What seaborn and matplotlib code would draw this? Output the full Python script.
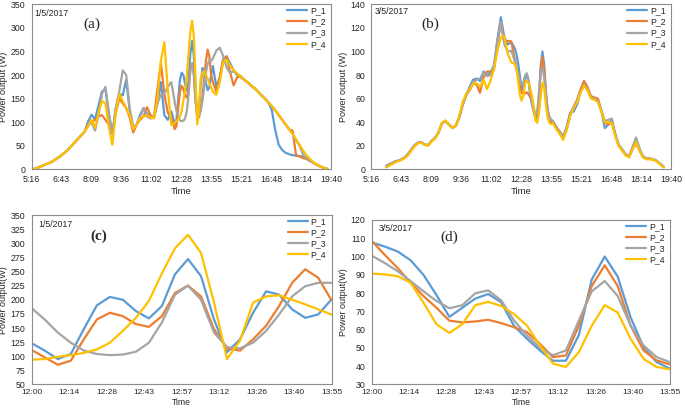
import numpy as np
import pandas as pd
import seaborn as sns
import matplotlib.pyplot as plt

sns.set_style('white')
plt.rcParams['font.family'] = ['Liberation Sans', 'DejaVu Sans']

series = ['P_1', 'P_2', 'P_3', 'P_4']
colors = ['#5B9BD5', '#ED7D31', '#A5A5A5', '#FFC000']

day_ticks = ['5:16', '6:43', '8:09', '9:36', '11:02', '12:28', '13:55', '15:21', '16:48', '18:14', '19:40']
noon_ticks = ['12:00', '12:14', '12:28', '12:43', '12:57', '13:12', '13:26', '13:40', '13:55']

# sample times in minutes after midnight
noon_time = np.arange(720, 840, 5)                      # 12:00 - 13:55
a_time = np.concatenate([np.arange(320, 720, 10), noon_time, np.arange(840, 1180, 10)])
b_time = np.concatenate([np.arange(360, 720, 10), noon_time, np.arange(840, 1170, 10)])

# ---- 1/5/2017, 12:00-13:55 (panel c, also part of panel a)
c_p1 = [123, 110, 95, 104, 148, 190, 205, 200, 180, 167, 189, 245, 272, 242, 165, 107, 130, 177, 215, 209, 183, 168, 174, 200]
c_p2 = [111, 98, 85, 92, 130, 165, 177, 171, 157, 152, 171, 212, 225, 206, 148, 114, 110, 130, 154, 189, 230, 254, 239, 200]
c_p3 = [185, 165, 142, 124, 110, 104, 102, 103, 108, 124, 160, 209, 225, 200, 142, 116, 114, 124, 145, 174, 206, 224, 230, 230]
c_p4 = [94, 95, 99, 102, 106, 112, 124, 145, 168, 198, 247, 291, 315, 283, 195, 95, 128, 195, 206, 208, 200, 192, 183, 174]

# ---- 1/5/2017 whole day (panel a)
a_rise = [0, 2, 5, 8, 11, 14, 18, 23, 28, 34, 40, 48, 56, 64, 72, 80]   # 5:20 - 7:50
a_p1_am = [101, 116, 106, 135, 165, 170, 115, 75, 130, 160, 157, 190, 125, 85, 95, 115, 130, 118, 110, 110, 140, 185, 115, 105]
a_p2_am = [95, 100, 105, 112, 115, 105, 95, 76, 120, 150, 140, 130, 110, 78, 95, 105, 112, 132, 115, 110, 170, 225, 160, 120]
a_p3_am = [92, 100, 82, 115, 160, 175, 120, 75, 130, 165, 210, 200, 130, 90, 95, 110, 130, 112, 108, 110, 140, 158, 160, 175]
a_p4_am = [92, 105, 88, 120, 145, 140, 90, 52, 120, 160, 145, 130, 115, 85, 95, 108, 112, 115, 110, 108, 150, 230, 270, 170]
a_p1_pm = [219, 175, 195, 235, 238, 225, 210, 200, 195, 190, 185, 178, 172, 165, 157, 150, 142,
           126, 83, 52, 41, 35, 32, 30, 29, 28, 27, 23, 18, 14, 10, 6, 3, 1]
a_p2_pm = [185, 165, 195, 232, 240, 205, 178, 195, 198, 190, 185, 178, 172, 165, 157, 150, 142,
           134, 125, 115, 105, 95, 85, 82, 30, 27, 24, 22, 18, 14, 10, 6, 3, 1]
a_p3_pm = [235, 252, 258, 240, 215, 205, 208, 203, 197, 190, 185, 178, 172, 165, 157, 150, 142,
           134, 125, 115, 105, 95, 85, 75, 62, 50, 32, 24, 19, 14, 10, 6, 3, 1]
a_p4_pm = [165, 158, 185, 228, 232, 220, 210, 203, 196, 190, 185, 178, 172, 165, 157, 150, 142,
           134, 125, 115, 105, 95, 85, 75, 64, 52, 40, 30, 22, 15, 10, 6, 3, 1]

# ---- 3/5/2017, 12:00-13:55 (panel d, also part of panel b)
d_p1 = [107.7, 105.5, 102.8, 98, 90, 79, 67, 72, 77, 79.5, 75, 62, 55, 48.6, 43, 43, 57, 87.5, 100, 89, 66.7, 50.4, 42.3, 38.7]
d_p2 = [108.6, 101, 93.8, 85.7, 78.4, 72, 64.9, 64, 64.5, 65.4, 63.6, 61.3, 58.6, 52.2, 45, 45.9, 62.2, 83.9, 95.2, 83.9, 62.2, 48.6, 43.2, 41]
d_p3 = [100.5, 96.5, 92, 86.6, 81, 75.7, 71.7, 73.4, 79.9, 81.5, 76, 65, 56.7, 50, 46, 48.6, 65, 81, 86.6, 78.4, 62.2, 51.3, 45, 42.3]
d_p4 = [90.7, 90.2, 89.3, 85.7, 74.8, 63, 58.2, 63, 73.4, 75.2, 73, 68.5, 62.2, 51.3, 41.4, 39.6, 47.7, 62.2, 73.4, 69.4, 55, 44, 39.6, 38.3]

# ---- 3/5/2017 whole day (panel b)
b_rise = [3, 4.5, 6, 7, 8, 9.5, 12, 16, 20, 22.5, 23, 21, 20.5, 24, 26.5, 31, 39, 41, 38, 35, 37, 44, 55, 63]
b_rise_p4 = [1.5, 3.5, 5, 6.5, 7.5, 9, 11, 15, 19, 22, 22.5, 21, 20, 23.5, 26, 31, 39.5, 41.5, 38, 35, 37, 45, 57, 64]
b_p1_am = [70, 76, 77, 75, 83, 80, 82, 88, 110, 129, 112, 106]
b_p2_am = [67, 73, 72, 65, 78, 83, 83, 84, 105, 125, 108, 109]
b_p3_am = [68, 74, 76, 77, 82, 79, 80, 86, 108, 125, 106, 100]
b_p4_am = [68, 73, 73, 70, 76, 68, 75, 85, 100, 112, 113, 98]
b_p1_pm = [40, 35, 31, 27, 36, 48, 49, 55, 66, 72, 68, 61, 60, 58, 50, 35, 38, 42, 30, 21, 17, 13, 11, 18, 26, 17, 11, 9, 9, 8.5, 7, 4.5, 2]
b_p2_pm = [41, 36, 32, 28, 35, 47, 53, 59, 68, 75, 70, 62, 61, 60, 50, 40, 38, 40, 29, 20, 16, 12, 10.5, 17, 22, 16, 10.5, 9, 9, 8.5, 7, 4.5, 2]
b_p3_pm = [41, 36, 31, 28, 35, 46, 53, 58, 66, 72, 68, 61, 60, 58, 50, 41, 42, 43, 30, 21, 17, 13, 11, 19, 27, 18, 11, 9.5, 9, 8.5, 7, 4.5, 2]
b_p4_pm = [39, 34, 30, 25, 33, 45, 52, 57, 65, 71, 67, 60, 59, 57, 49, 40, 40, 39, 28, 20, 16, 12, 10, 17, 23, 16, 10, 8.5, 8.5, 8, 6.5, 4, 1.5]

a_vals = [a_rise + a_p1_am + c_p1 + a_p1_pm,
          a_rise + a_p2_am + c_p2 + a_p2_pm,
          a_rise + a_p3_am + c_p3 + a_p3_pm,
          a_rise + a_p4_am + c_p4 + a_p4_pm]
b_vals = [b_rise + b_p1_am + d_p1 + b_p1_pm,
          b_rise + b_p2_am + d_p2 + b_p2_pm,
          b_rise + b_p3_am + d_p3 + b_p3_pm,
          b_rise_p4 + b_p4_am + d_p4 + b_p4_pm]


def panel(rect, t, vals, ylim, ystep, start, step, ticklabels, date, letter, letter_xy, bold, ylabel,
          xlab_y, xlab_size, tick_size, tick_pad):
    ax = fig.add_axes(rect)
    df = pd.DataFrame({'time': np.tile(t, 4),
                       'power': np.concatenate([np.asarray(v, dtype=float) for v in vals]),
                       'series': np.repeat(series, len(t))})
    sns.lineplot(data=df, x='time', y='power', hue='series', hue_order=series,
                 palette=colors, linewidth=1.6, ax=ax)
    ticks = start + step * np.arange(len(ticklabels))
    ax.set_xlim(ticks[0], ticks[-1])
    ax.set_xticks(ticks)
    ax.set_xticklabels(ticklabels)
    ax.set_ylim(*ylim)
    ax.set_yticks(np.arange(ylim[0], ylim[1] + 1, ystep))
    ax.tick_params(labelsize=6.3, length=2.5, width=0.6, color='#808080', pad=2)
    ax.tick_params(axis='x', labelsize=tick_size, length=2, pad=tick_pad)
    for s in ax.spines.values():
        s.set_color('#8c8c8c')
        s.set_linewidth(0.8)
    ax.set_xlabel('Time', fontsize=xlab_size)
    ax.xaxis.set_label_coords(0.5, xlab_y)
    ax.set_ylabel(ylabel, fontsize=6.5, labelpad=2)
    ax.text(date[0], date[1], date[2], transform=ax.transAxes, fontsize=6.3, va='center')
    ax.text(letter_xy[0], letter_xy[1], letter, transform=ax.transAxes, fontsize=11,
            family='Liberation Serif', fontweight='bold' if bold else 'normal',
            ha='center', va='center')
    ax.legend(loc='upper right', bbox_to_anchor=(1.0, 1.02), frameon=False, fontsize=6.3,
              handlelength=2.3, handletextpad=0.3, labelspacing=0.25, borderaxespad=0.2)
    return ax


fig = plt.figure(figsize=(6.85, 4.08), dpi=100)

panel([0.0460, 0.585, 0.4372, 0.4044], a_time, a_vals, (0, 350), 50, 316.8, 86.4, day_ticks,
      (0.01, 0.945, '1/5/2017'), '(a)', (0.2, 0.88), False, 'Power output (W)', -0.11, 6.8, 6.3, 2)
panel([0.5423, 0.585, 0.4372, 0.4044], b_time, b_vals, (0, 140), 20, 316.8, 86.4, day_ticks,
      (0.012, 0.955, '3/5/2017'), '(b)', (0.198, 0.88), False, 'Power output (W)', -0.11, 6.8, 6.3, 2)
panel([0.0463, 0.0576, 0.438, 0.4154], noon_time, [c_p1, c_p2, c_p3, c_p4], (50, 350), 25, 720, 14.4,
      noon_ticks, (0.022, 0.945, '1/5/2017'), '(c)', (0.222, 0.873), True, 'Power output(W)',
      -0.077, 6.2, 6.0, 1)
panel([0.5426, 0.0576, 0.4355, 0.4032], noon_time, [d_p1, d_p2, d_p3, d_p4], (30, 120), 10, 720, 14.4,
      noon_ticks, (0.022, 0.95, '3/5/2017'), '(d)', (0.26, 0.896), False, 'Power output(W)',
      -0.08, 6.2, 6.0, 1)

fig.savefig('out.png', dpi=100)
